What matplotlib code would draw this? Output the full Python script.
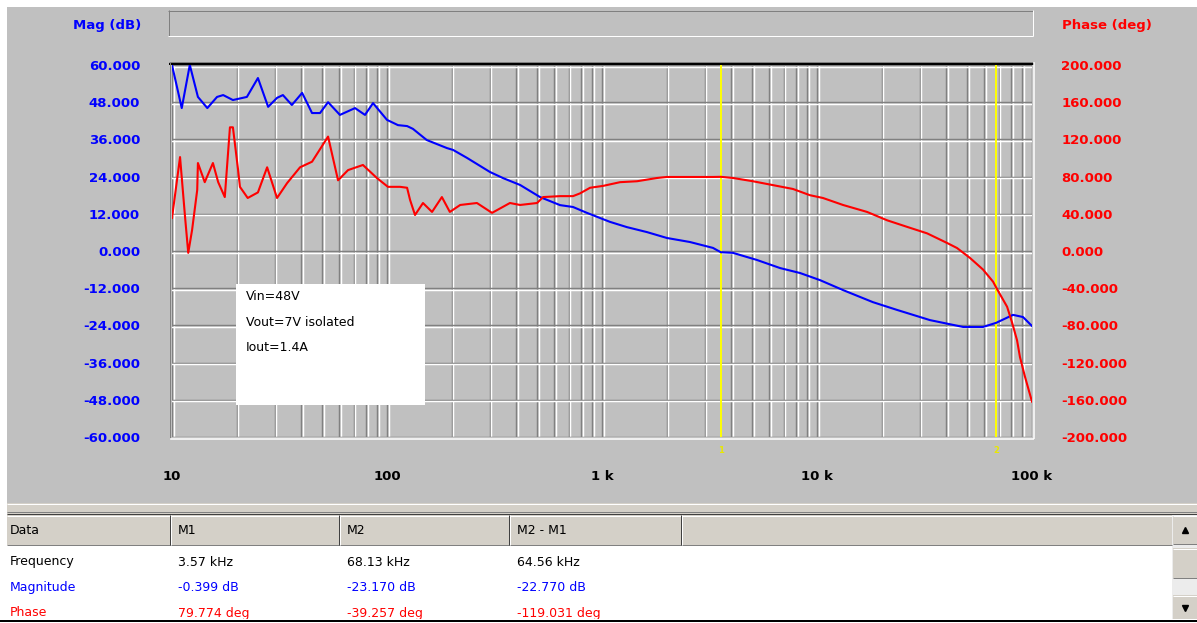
import matplotlib
matplotlib.use("Agg")
import matplotlib.pyplot as plt
from matplotlib.patches import Rectangle
from matplotlib.lines import Line2D
from matplotlib.transforms import ScaledTranslation, blended_transform_factory
from matplotlib.ticker import FixedLocator, NullFormatter, NullLocator

# ---------------- measured loop response ----------------
mag_freq = [10.0, 11.1, 12.1, 13.2, 14.6, 16.2, 17.3, 19.2, 22.3, 25.1, 28.0, 30.8,
            32.8, 36.1, 40.3, 44.8, 48.8, 53.2, 60.4, 71.0, 79.0, 86.1, 100, 112.5,
            124, 132, 153, 190, 203, 236, 301, 347, 416, 515, 638, 733, 851, 1089,
            1306, 1618, 2004, 2564, 3281, 3570, 4064, 5260, 6730, 8337, 10330,
            13210, 18200, 23550, 33560, 47800, 59200, 68130, 81600, 90800, 100000]
mag_db = [60.0, 46.1, 60.0, 49.7, 46.1, 49.7, 50.3, 48.7, 49.7, 55.8, 46.5, 49.4,
          50.3, 47.1, 51.0, 44.5, 44.5, 48.0, 43.9, 46.1, 43.9, 47.7, 42.3, 40.6,
          40.3, 39.4, 35.8, 33.2, 32.6, 30.0, 25.5, 23.5, 21.3, 17.4, 14.8, 14.2,
          12.3, 9.4, 7.7, 6.1, 4.2, 2.9, 1.0, -0.4, -0.6, -2.9, -5.5, -7.1, -9.4,
          -12.6, -16.5, -19.0, -22.3, -24.5, -24.5, -23.17, -20.6, -21.3, -24.2]

phase_freq = [10.0, 10.9, 11.5, 11.9, 12.4, 13.1, 13.2, 14.2, 15.5, 16.4, 17.6, 18.6,
              19.2, 20.3, 20.7, 22.5, 25.1, 27.7, 30.8, 34.3, 39.4, 44.8, 53.2, 59.2,
              65.9, 77.3, 89.7, 101, 115, 124, 128, 135, 147, 162, 180, 196, 219, 262,
              308, 373, 416, 499, 532, 638, 733, 791, 880, 1011, 1213, 1455, 1803,
              2004, 3281, 3570, 4064, 5035, 6515, 7730, 9270, 10660, 13210, 17100,
              21200, 26200, 32500, 40300, 44800, 51500, 59200, 65900, 68130, 76600,
              80800, 85200, 87900, 92700, 100000]
phase_deg = [35.5, 101, 36.6, -2, 22.6, 65.6, 94.6, 74, 94.6, 74, 58, 133,
             133, 87, 69, 57, 63, 90, 57, 73, 90, 96, 123, 76,
             87, 92.5, 78.5, 69, 69, 68, 55, 38.7, 51.6, 42, 58, 42, 49.5, 51.6,
             41, 51.6, 49.5, 51.6, 58, 59, 59, 62, 68, 70, 74, 75, 78.5,
             79.6, 79.6, 79.774, 78.5, 75, 70, 66.7, 60, 57, 49.5, 42,
             33, 26, 19, 8.6, 3.2, -7.5, -20, -33, -39.257, -60,
             -77, -96, -114, -135, -162]

marker_freq = [3570, 68130]
marker_names = ["1", "2"]

mag_ticks = [60, 48, 36, 24, 12, 0, -12, -24, -36, -48, -60]
phase_ticks = [200, 160, 120, 80, 40, 0, -40, -80, -120, -160, -200]
freq_ticks = [10, 100, 1000, 10000, 100000]
freq_labels = ["10", "100", "1 k", "10 k", "100 k"]

note_lines = ["Vin=48V", "Vout=7V isolated", "Iout=1.4A"]

table_header = ["Data", "M1", "M2", "M2 - M1"]
row_names = ["Frequency", "Magnitude", "Phase"]
row_colors = ["black", "#0000ff", "#ff0000"]
col_m1 = ["3.57 kHz", "-0.399 dB", "79.774 deg"]
col_m2 = ["68.13 kHz", "-23.170 dB", "-39.257 deg"]
col_diff = ["64.56 kHz", "-22.770 dB", "-119.031 deg"]

# ---------------- window geometry (pixels) ----------------
W, H = 1197, 623
GRAY = "#c0c0c0"
FACE = "#d4d0c8"
DARK = "#808080"
PX = 0.72  # one pixel in points

fig = plt.figure(figsize=(W / 100, H / 100), dpi=100, facecolor="white")


def fx(x):
    return x / W


def fy(y):
    return 1 - y / H


def rect(x0, y0, x1, y1, color, z=-5, **kw):
    fig.patches.append(Rectangle((fx(x0), fy(y1)), (x1 - x0) / W, (y1 - y0) / H,
                                 transform=fig.transFigure, facecolor=color,
                                 edgecolor="none", zorder=z, **kw))


def hl(x0, x1, y, color, lw=PX, z=5):
    fig.lines.append(Line2D([fx(x0), fx(x1)], [fy(y), fy(y)], transform=fig.transFigure,
                            color=color, lw=lw, zorder=z, solid_capstyle="butt"))


def vl(x, y0, y1, color, lw=PX, z=5):
    fig.lines.append(Line2D([fx(x), fx(x)], [fy(y0), fy(y1)], transform=fig.transFigure,
                            color=color, lw=lw, zorder=z, solid_capstyle="butt"))


def ftext(x, y, s, **kw):
    fig.text(fx(x), fy(y), s, **kw)


# window background
rect(7, 7, W, 503, GRAY)

# title bar (sunken box)
rect(168, 10, 1033, 36, GRAY)
hl(168, 1033, 10.5, DARK)
vl(168.5, 10, 36, DARK)
hl(168, 1033, 35.5, "white")
vl(1032.5, 10, 36, "white")

# ---------------- plot axes ----------------
ax_left, ax_right, ax_top, ax_bot = 172, 1032, 65, 437
ax = fig.add_axes([fx(ax_left), fy(ax_bot), (ax_right - ax_left) / W, (ax_bot - ax_top) / H])
ax.set_facecolor(GRAY)
ax.set_xscale("log")
ax.set_xlim(10, 100000)
ax.set_ylim(-60, 60)
for s in ax.spines.values():
    s.set_visible(False)

ax2 = ax.twinx()
ax2.set_ylim(-200, 200)
for s in ax2.spines.values():
    s.set_visible(False)

# grooved grid: dark line with a white highlight beside it
right1 = ScaledTranslation(1.6 / 100, 0, fig.dpi_scale_trans)
down1 = ScaledTranslation(0, -1.6 / 100, fig.dpi_scale_trans)
GLW = 1.05
grid_freqs = [m * 10 ** d for d in range(1, 5) for m in range(1, 10)] + [100000]
for f in grid_freqs:
    ax.add_line(Line2D([f, f], [0, 1], transform=ax.get_xaxis_transform(),
                       color=DARK, lw=GLW, zorder=1))
    ax.add_line(Line2D([f, f], [0, 1], transform=ax.get_xaxis_transform() + right1,
                       color="white", lw=GLW, zorder=1))
for v in mag_ticks:
    ax.add_line(Line2D([0, 1], [v, v], transform=ax.get_yaxis_transform(),
                       color=DARK, lw=GLW, zorder=1))
    ax.add_line(Line2D([0, 1], [v, v], transform=ax.get_yaxis_transform() + down1,
                       color="white", lw=GLW, zorder=1))

# marker cursors
for f, name in zip(marker_freq, marker_names):
    ax.axvline(f, color="#ffff00", lw=1.4, zorder=1.8)
    ax.text(f, -0.035, name, transform=blended_transform_factory(ax.transData, ax.transAxes),
            color="#e8e800", fontsize=6, ha="center", va="center", fontweight="bold")

# note box
note = Rectangle((fx(236), fy(405)), (425 - 236) / W, (405 - 284) / H,
                 transform=fig.transFigure, facecolor="white", edgecolor="none",
                 zorder=1.6, clip_on=False)
ax.add_patch(note)
for i, line in enumerate(note_lines):
    ax.text(fx(246), fy(297 + 25.5 * i), line, transform=fig.transFigure,
            fontsize=9, color="black", va="center", ha="left", zorder=1.7)

# curves
ax.plot(mag_freq, mag_db, color="#0000ff", lw=1.5, zorder=2.5)
ax2.plot(phase_freq, phase_deg, color="#ff0000", lw=1.5, zorder=2.5)

# ticks and labels
ax.xaxis.set_major_locator(FixedLocator(freq_ticks))
ax.set_xticklabels(freq_labels)
ax.xaxis.set_minor_locator(NullLocator())
ax.xaxis.set_minor_formatter(NullFormatter())
ax.tick_params(axis="x", length=0, pad=24, labelsize=9.5, labelcolor="black")
ax.set_yticks(mag_ticks)
ax.set_yticklabels([f"{v:.3f}" for v in mag_ticks])
ax.tick_params(axis="y", length=0, pad=23, labelsize=9.5, labelcolor="#0000ff")
ax2.set_yticks(phase_ticks)
ax2.set_yticklabels([f"{v:.3f}" for v in phase_ticks])
ax2.tick_params(axis="y", length=0, pad=21, labelsize=9.5, labelcolor="#ff0000")
for lab in ax.get_xticklabels() + ax.get_yticklabels() + ax2.get_yticklabels():
    lab.set_fontweight("bold")

ftext(141, 25, "Mag (dB)", color="#0000ff", fontsize=9.5, fontweight="bold",
      ha="right", va="center")
ftext(1062, 25, "Phase (deg)", color="#ff0000", fontsize=9.5, fontweight="bold",
      ha="left", va="center")

# sunken plot frame
hl(169, 1034, 62, DARK)
hl(169, 1034, 64, "black", lw=2 * PX)
vl(170, 62, 439, DARK)
hl(170, 1034, 438.5, "white", lw=1.5 * PX)
vl(1033.5, 62, 439, "white", lw=1.5 * PX)

# ---------------- splitter and data table ----------------
rect(7, 503, W, 515, FACE)
hl(7, W, 504, "white")
hl(7, W, 511.5, DARK)
hl(7, W, 513.5, "#404040")

rect(7, 515, 1172, 545, FACE)
hl(7, 1172, 515.5, "white")
hl(7, 1172, 544.5, DARK)
for sx in [170, 339, 509, 681]:
    vl(sx, 515, 545, "#404040")
    vl(sx + 1.2, 515, 545, "white")
rect(7, 545, 1172, 620, "white")

col_x = [10, 178, 347, 517]
for cx, name in zip(col_x, table_header):
    ftext(cx, 530, name, fontsize=9, color="black", ha="left", va="center")
for r, (name, color) in enumerate(zip(row_names, row_colors)):
    yy = 562 + 25.5 * r
    ftext(10, yy, name, fontsize=9, color=color, ha="left", va="center")
    for cx, col in zip(col_x[1:], [col_m1, col_m2, col_diff]):
        ftext(cx, yy, col[r], fontsize=9, color=color, ha="left", va="center")

# vertical scrollbar
rect(1172, 515, W, 620, "#ececec")
rect(1173, 516, W, 544, FACE, z=-4)
hl(1173, W, 516, "white", z=6)
hl(1173, W, 543.5, DARK, z=6)
rect(1173, 548, W, 578, FACE, z=-4)
hl(1173, W, 548.5, "white", z=6)
hl(1173, W, 577.5, DARK, z=6)
rect(1173, 595, W, 620, FACE, z=-4)
hl(1173, W, 595.5, "white", z=6)
fig.lines.append(Line2D([fx(1185)], [fy(530)], transform=fig.transFigure, marker="^",
                        markersize=4, color="black", linestyle="none", zorder=6))
fig.lines.append(Line2D([fx(1185)], [fy(608)], transform=fig.transFigure, marker="v",
                        markersize=4, color="black", linestyle="none", zorder=6))

# bottom edge of the window
rect(0, 619, W, H, "white", z=4)
hl(0, W, 620.5, "black", lw=2 * PX, z=6)

fig.savefig("out.png", dpi=100, facecolor="white")
